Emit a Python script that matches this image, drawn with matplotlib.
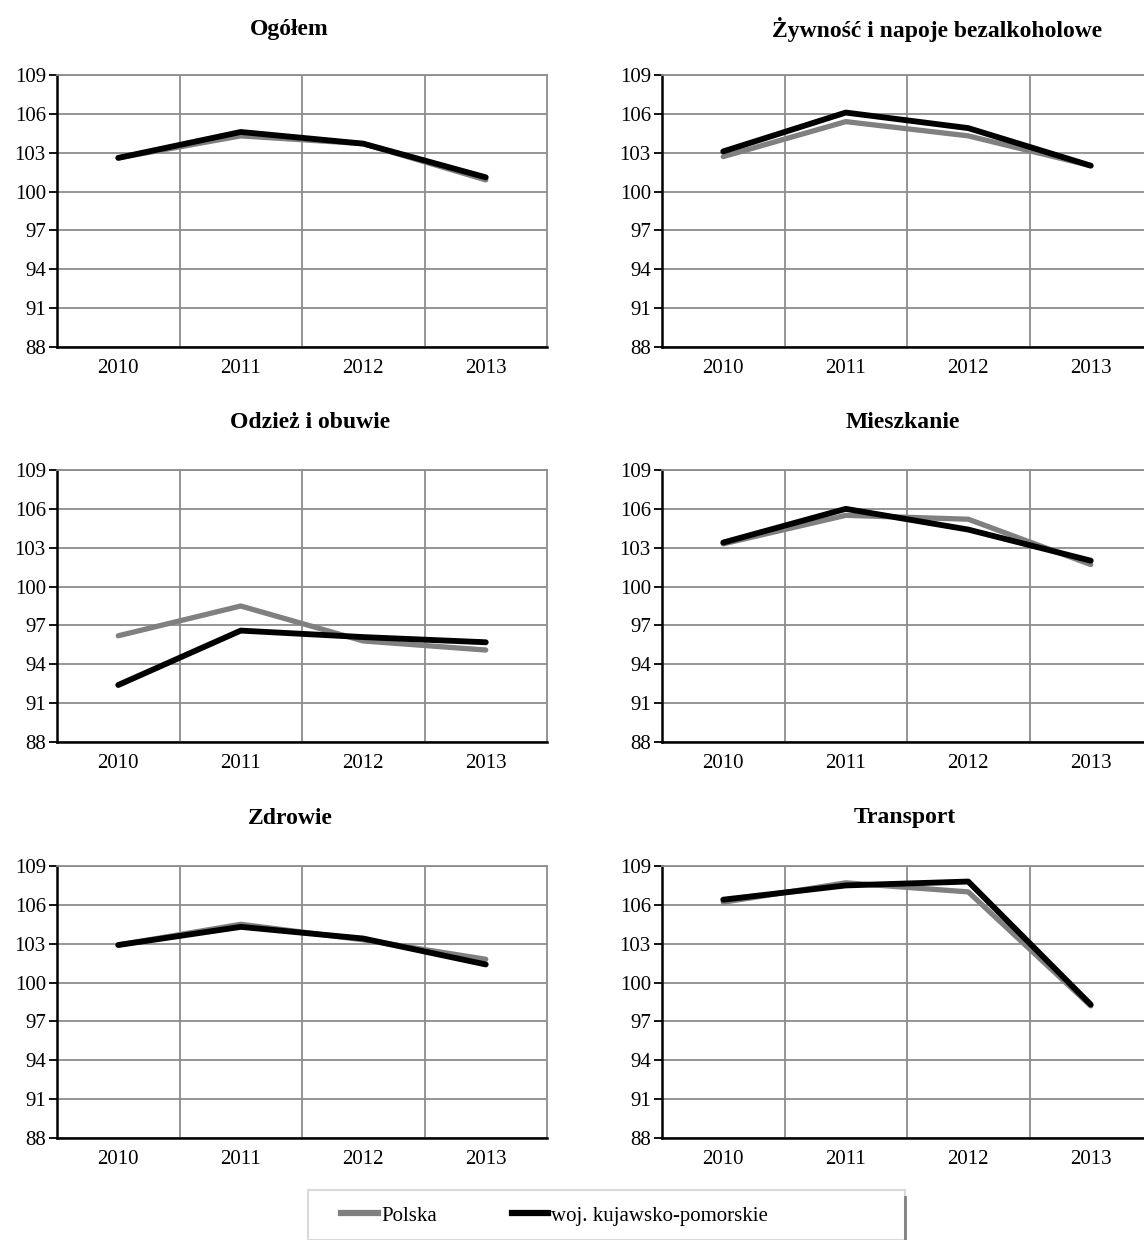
import matplotlib
matplotlib.use("Agg")
import matplotlib.pyplot as plt
from matplotlib.patches import Rectangle
from matplotlib.lines import Line2D

plt.rcParams["font.family"] = ["Liberation Serif", "DejaVu Serif"]

years = ["2010", "2011", "2012", "2013"]
titles = ["Ogółem", "Żywność i napoje bezalkoholowe", "Odzież i obuwie",
          "Mieszkanie", "Zdrowie", "Transport"]
polska = [
    [102.6, 104.3, 103.7, 100.9],
    [102.7, 105.4, 104.3, 102.0],
    [96.2, 98.5, 95.8, 95.1],
    [103.3, 105.5, 105.2, 101.7],
    [102.9, 104.5, 103.3, 101.8],
    [106.2, 107.7, 107.0, 98.2],
]
kujawsko = [
    [102.6, 104.6, 103.7, 101.1],
    [103.1, 106.1, 104.9, 102.0],
    [92.4, 96.6, 96.1, 95.7],
    [103.4, 106.0, 104.4, 102.0],
    [102.9, 104.3, 103.4, 101.4],
    [106.4, 107.5, 107.8, 98.3],
]
yticks = [88, 91, 94, 97, 100, 103, 106, 109]
labels = ["Polska", "woj. kujawsko-pomorskie"]

W, H = 1144, 1240
fig = plt.figure(figsize=(W / 100, H / 100), dpi=100)

lefts = [57, 662]
tops = [75, 470, 866]
aw, ah = 490, 272
grid_c = "#8c8c8c"
# title centres (px), as placed in the original
title_xy = [(289, 30), (937, 30), (310, 422), (903, 422), (290, 818), (905, 818)]

for i, title in enumerate(titles):
    r, c = divmod(i, 2)
    ax = fig.add_axes([lefts[c] / W, 1 - (tops[r] + ah) / H, aw / W, ah / H])
    x = list(range(len(years)))
    ax.plot(x, polska[i], color="#808080", lw=3.8, solid_capstyle="round", zorder=3)
    ax.plot(x, kujawsko[i], color="#000000", lw=4.2, solid_capstyle="round", zorder=4)
    ax.set_xlim(-0.5, 3.5)
    ax.set_ylim(88, 109)
    ax.set_yticks(yticks)
    ax.set_xticks(x)
    ax.set_xticklabels(years)
    # category boundary gridlines, Excel style
    for b in [0.5, 1.5, 2.5]:
        ax.axvline(b, color=grid_c, lw=1.3, zorder=1)
    ax.grid(axis="y", color=grid_c, lw=1.3, zorder=1)
    ax.set_axisbelow(True)
    for s in ["top", "right"]:
        ax.spines[s].set_color(grid_c)
        ax.spines[s].set_linewidth(1.3)
    for s in ["left", "bottom"]:
        ax.spines[s].set_color("black")
        ax.spines[s].set_linewidth(1.8)
    ax.tick_params(axis="y", length=6, width=1.3, labelsize=15, pad=2)
    ax.tick_params(axis="x", length=0, labelsize=15, pad=9)
    tx, ty = title_xy[i]
    fig.text(tx / W, 1 - ty / H, title, fontsize=17, fontweight="bold",
             ha="center", va="center")

# legend box
lx0, lx1, ly0 = 308, 905, 1190
fig.add_artist(Rectangle((lx0 / W, 0), (lx1 - lx0) / W, 1 - ly0 / H,
                         transform=fig.transFigure, facecolor="white",
                         edgecolor="#d9d9d9", lw=1.5))
fig.add_artist(Line2D([lx1 / W, lx1 / W], [0, 1 - 1197 / H],
                      transform=fig.transFigure, color="#808080", lw=2))
handles = [Line2D([], [], color="#808080", lw=4.5),
           Line2D([], [], color="#000000", lw=4.5)]
fig.legend(handles, labels, loc="center left", frameon=False, ncol=2,
           bbox_to_anchor=(331 / W, 1 - 1216 / H), fontsize=15,
           handlelength=1.75, handletextpad=0.15, columnspacing=3.6,
           borderpad=0)

fig.savefig("out.png", dpi=100)
